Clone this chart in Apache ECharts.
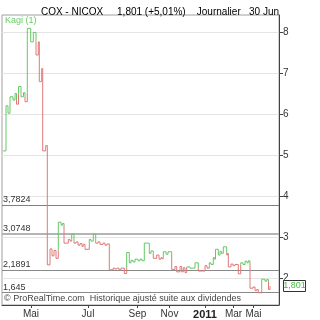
<!DOCTYPE html>
<html><head><meta charset="utf-8">
<script src="https://cdn.jsdelivr.net/npm/echarts@6/dist/echarts.min.js"></script>
<style>html,body{margin:0;padding:0;background:#fff}#c{width:320px;height:320px}</style>
</head><body><div id="c"></div>
<script>
// Kagi chart data: start, then each vertical line (column position, end price)
const kagiStartCol = 3;
const kagiStartPrice = 5.10;
const kagiCols = [6,8,10,13,15,16.5,18.5,21,23.5,25,27.3,30.7,33.3,36,38.3,39.3,41.7,42.7,45.7,47.3,
  50,52,54,56,58.3,61,62.5,64,68.3,70,71.7,74,76,78,80,82,83.3,85,89.3,91,93.3,95.7,98,100,103,105,107,109.3,
  113.3,115,117,119,121,124.3,126.7,129.3,131,133,135,138,140,142,144.3,149.3,151,153.3,156.7,159,161,162,163.3,166,168,
  171.7,175,176.7,180,181.7,183.3,185,186.7,190,195,198.3,205,207,209.3,211,213.3,214.3,215.5,218.3,220,221.5,223.3,
  226.7,227.5,228.3,231,233,235,238.3,240.7,243,245,247,248.3,250,253,255,256.7,258.3,261.7,265,266.7,268.5,270];
const kagiPrices = [6.20,6.02,6.42,6.34,6.50,6.24,6.67,6.42,6.52,6.30,8.09,7.76,7.99,7.44,7.76,6.79,7.11,5.10,5.23,2.32,
  2.71,2.54,2.67,2.48,3.36,3.29,3.33,2.85,2.94,2.90,3.07,2.85,2.88,2.80,2.84,2.77,2.82,2.70,2.94,2.90,3.07,2.85,2.88,2.82,2.85,2.80,2.83,2.20,
  2.24,2.22,2.24,2.20,2.24,2.11,2.62,2.37,2.43,2.39,2.46,2.42,2.46,2.42,2.85,2.60,2.66,2.48,2.56,2.46,2.50,2.47,2.64,2.58,2.64,
  2.21,2.28,2.15,2.28,2.15,2.25,2.13,2.27,2.24,2.37,2.17,2.30,2.24,2.37,2.33,2.50,2.46,2.70,2.56,2.65,2.60,2.76,
  2.56,2.60,2.27,2.34,2.30,2.33,2.10,2.37,2.33,2.41,2.37,2.42,1.75,1.78,1.69,1.72,1.64,1.97,1.92,1.96,1.72,1.80];
const lastPrice = 1.801;
const refLevels = [3.7824, 3.0748, 2.1891, 1.645];
const refLabels = ['3,7824', '3,0748', '2,1891', '1,645'];
const yTicks = [2,3,4,5,6,7,8];
const monthCols = [31, 88, 137.5, 169.5, 205, 233.5, 253.5];
const monthLabels = ['Mai', 'Jul', 'Sep', 'Nov', '2011', 'Mar', 'Mai'];
const titleText = 'COX - NICOX     1,801 (+5,01%)    Journalier   30 Jun';
const footerText = '\u00a9 ProRealTime.com  Historique ajust\u00e9 suite aux dividendes';

const GREEN = '#66c766', RED = '#e07878';
const X0 = 2, X1 = 279, YMIN = 1.341, YMAX = 8.415;

// build kagi polylines with yin/yang colouring
const segs = [];
let color = GREEN, cur = [[kagiStartCol, kagiStartPrice]];
let px = kagiStartCol, pp = kagiStartPrice, lastHigh = null, lastLow = null;
function switchTo(c, pt) { segs.push({ coords: cur, lineStyle: { color: color } }); color = c; cur = [pt]; }
for (let i = 0; i < kagiCols.length; i++) {
  const x = kagiCols[i], q = kagiPrices[i];
  cur.push([x, pp]);
  if (q > pp) {
    if (color === RED && lastHigh !== null && q > lastHigh) { cur.push([x, lastHigh]); switchTo(GREEN, [x, lastHigh]); }
    lastLow = pp;
  } else {
    if (color === GREEN && lastLow !== null && q < lastLow) { cur.push([x, lastLow]); switchTo(RED, [x, lastLow]); }
    lastHigh = pp;
  }
  cur.push([x, q]);
  px = x; pp = q;
}
segs.push({ coords: cur, lineStyle: { color: color } });

const chart = echarts.init(document.getElementById('c'), null, { renderer: 'canvas' });
const gridLines = yTicks.map(v => ({ coords: [[X0, v], [X1, v]] }));
const refLineStyles = [
  { color: '#808080', width: 1 }, { color: '#b4b4b4', width: 2 }, { color: '#8a8a8a', width: 1 }, { color: '#8a8a8a', width: 1 }];
const refData = refLevels.map((v, i) => ({ coords: [[X0, v], [X1, v]], lineStyle: refLineStyles[i], label: { formatter: refLabels[i] } }));

chart.setOption({
  animation: false,
  backgroundColor: '#fff',
  title: { text: titleText, left: 'center', top: 2, textStyle: { fontSize: 10, fontWeight: 'normal', color: '#000', fontFamily: 'Liberation Sans' } },
  grid: { left: X0, right: 320 - X1, top: 15, bottom: 15, show: true, borderColor: '#a0a0a0', borderWidth: 1 },
  xAxis: {
    type: 'value', min: X0, max: X1,
    axisLine: { show: true, lineStyle: { color: '#444' } },
    axisTick: { show: true, length: 3, lineStyle: { color: '#444' }, customValues: monthCols },
    axisLabel: {
      customValues: monthCols, margin: 4, fontSize: 10, color: '#333', fontFamily: 'Liberation Sans',
      formatter: v => { const i = monthCols.indexOf(v); const s = monthLabels[i]; return s === '2011' ? '{b|2011}' : s; },
      rich: { b: { fontWeight: 'bold', fontSize: 11, color: '#222', fontFamily: 'Liberation Sans' } }
    },
    splitLine: { show: false }
  },
  yAxis: {
    type: 'value', position: 'right', min: YMIN, max: YMAX,
    axisLine: { show: true, lineStyle: { color: '#444' } },
    axisTick: { show: true, length: 4, lineStyle: { color: '#444' }, customValues: yTicks },
    axisLabel: { customValues: yTicks, margin: 4, fontSize: 10, color: '#333', fontFamily: 'Liberation Sans', formatter: v => String(v) },
    splitLine: { show: false }
  },
  series: [
    { type: 'lines', coordinateSystem: 'cartesian2d', silent: true, z: 1,
      lineStyle: { color: '#e4e4e4', width: 1, opacity: 1 }, data: gridLines },
    { type: 'lines', coordinateSystem: 'cartesian2d', silent: true, z: 2,
      lineStyle: { width: 1, opacity: 1 },
      label: { show: true, position: 'insideStartTop', distance: 1, fontSize: 9, color: '#333', fontFamily: 'Liberation Sans' },
      data: refData },
    { type: 'lines', coordinateSystem: 'cartesian2d', polyline: true, silent: true, z: 3,
      lineStyle: { width: 1, opacity: 1 }, data: segs }
  ]
});

const yPix = chart.convertToPixel({ yAxisIndex: 0 }, lastPrice);
const yFoot = chart.convertToPixel({ yAxisIndex: 0 }, refLevels[3]);
chart.setOption({
  graphic: [
    { type: 'text', left: 5, top: 16, style: { text: 'Kagi (1)', fontSize: 9, fill: '#66cc66', fontFamily: 'Liberation Sans' } },
    { type: 'text', x: 4, y: yFoot + 1.5, style: { text: footerText, fontSize: 9, fill: '#444', fontFamily: 'Liberation Sans', textVerticalAlign: 'top' } },
    { type: 'rect', shape: { x: 283.5, y: Math.round(yPix) - 5.5, width: 22, height: 11 }, style: { fill: '#fff', stroke: '#333', lineWidth: 1 } },
    { type: 'text', x: 294.5, y: Math.round(yPix), style: { text: '1,801', fontSize: 9, fill: '#44bb44', fontFamily: 'Liberation Sans', textAlign: 'center', textVerticalAlign: 'middle' } }
  ]
});
</script></body></html>
